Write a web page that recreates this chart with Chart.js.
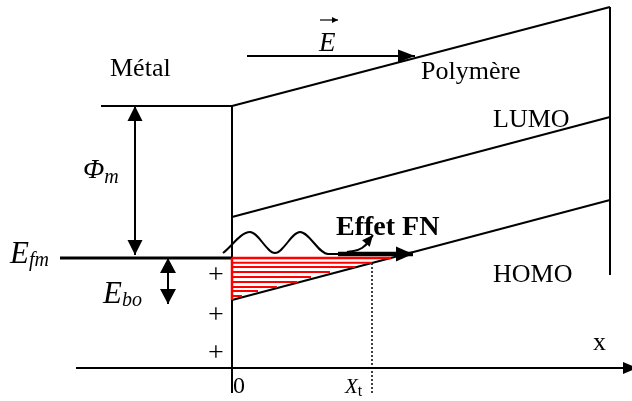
<!DOCTYPE html>
<html><head><meta charset="utf-8">
<script src="https://cdn.jsdelivr.net/npm/chart.js@4.4.1/dist/chart.umd.min.js"></script>
<style>html,body{margin:0;padding:0;background:#fff}#wrap{width:632px;height:401px;position:relative}</style>
</head><body><div id="wrap"><canvas id="c"></canvas></div>
<script>
// ---- schematic data (x: distance, 0 = metal/polymer interface; y: energy, 0 = metal Fermi level) ----
const bandX        = [0, 37.8];          // polymer band diagram extent
const vacuumLevel  = [15.2, 25.1];       // polymer vacuum level (left, right)
const lumoLevel    = [4.1, 14.1];        // LUMO (left, right)
const homoLevel    = [-4.2, 5.8];        // HOMO (left, right)
const metalVacX    = [-13.1, 0];         // metal vacuum level extent
const metalVacY    = 15.2;
const fermiX       = [-17.2, 0];         // metal Fermi level extent
const fermiY       = 0;
const phiArrowX    = -9.7;               // work function arrow
const phiArrowY    = [15.2, 0.3];
const eboArrowX    = -6.4;               // barrier arrow
const eboArrowY    = [0, -4.6];
const interfaceY   = [15.2, -13.5];
const rightEdgeY   = [25.1, -1.7];
const fieldX       = [1.5, 18.3];        // electric field arrow
const fieldY       = 20.2;
const vecSignX     = [8.8, 10.6];        // vector sign over E
const vecSignY     = 23.8;
const axisX        = [-15.6, 40.5];      // x axis
const axisY        = -11.0;
const xt           = 14.0;               // tunnelling distance X_t
const xtY          = [-0.5, -13.7];
const waveX        = [-0.9, 1.8, 4.3, 6.8, 9.6, 10.6];   // electron wave
const waveY        = [0.5, 2.6, 0.5, 2.6, 0.4, 0.4];
const fnArrowX     = [10.6, 18.1];       // Fowler-Nordheim arrow
const fnArrowY     = 0.4;
const curveX       = [11.5, 13.0, 14.1]; // small curved arrow
const curveY       = [0.6, 1.0, 2.3];
const hatchY       = [0, -0.47, -0.9, -1.4, -1.9, -2.4, -2.9, -3.3, -3.8];
const hatchEnd     = [15.9, 14.0, 12.3, 9.8, 7.9, 6.5, 4.5, 2.6, 1.0];
const plusY        = [-1.8, -5.8, -9.6];
const textLabels   = ['Métal', 'Polymère', 'LUMO', 'HOMO', 'x', '0', 'Effet FN'];

const pts = (xs, ys) => xs.map((x, i) => ({x, y: Array.isArray(ys) ? ys[i] : ys}));
const line = (data, extra) => Object.assign({data, showLine: true, borderColor: '#000', borderWidth: 2,
  pointRadius: 0, fill: false, tension: 0}, extra || {});

const datasets = [];
hatchY.forEach((hy, i) => datasets.push(line(pts([0, hatchEnd[i]], hy), {borderColor: '#ff0000', borderWidth: i === 0 ? 2.5 : 2})));
datasets.push(line(pts([0, 0], [0, homoLevel[0]]), {borderColor: '#ff0000', borderWidth: 2.5}));
datasets.push(line(pts(bandX, vacuumLevel)));
datasets.push(line(pts(bandX, lumoLevel)));
datasets.push(line(pts(bandX, homoLevel)));
datasets.push(line(pts(metalVacX, metalVacY)));
datasets.push(line(pts(fermiX, fermiY), {borderWidth: 3}));
datasets.push(line(pts([phiArrowX, phiArrowX], phiArrowY), {arrows: {start: true, end: true, len: 15, w: 15}}));
datasets.push(line(pts([eboArrowX, eboArrowX], eboArrowY), {arrows: {start: true, end: true, len: 15, w: 16}}));
datasets.push(line(pts([0, 0], interfaceY)));
datasets.push(line(pts([bandX[1], bandX[1]], rightEdgeY)));
datasets.push(line(pts(fieldX, fieldY), {arrows: {end: true, len: 17, w: 13}}));
datasets.push(line(pts(vecSignX, vecSignY), {borderWidth: 1.2, arrows: {end: true, len: 6, w: 6}}));
datasets.push(line(pts(axisX, axisY), {arrows: {end: true, len: 14, w: 12}}));
datasets.push(line(pts([xt, xt], xtY), {borderWidth: 1.5, borderDash: [2, 2]}));
datasets.push(line(pts(waveX, waveY), {cubicInterpolationMode: 'monotone', borderWidth: 2}));
datasets.push(line(pts(fnArrowX, fnArrowY), {borderWidth: 4.5, arrows: {end: true, len: 17, w: 15}}));
datasets.push(line(pts(curveX, curveY), {tension: 0.5, borderWidth: 2, arrows: {end: true, len: 11, w: 10}}));

const arrowPlugin = {
  id: 'arrowHeads',
  afterDatasetsDraw(chart) {
    const ctx = chart.ctx;
    chart.data.datasets.forEach((ds, i) => {
      if (!ds.arrows) return;
      const p = chart.getDatasetMeta(i).data;
      const n = p.length;
      const head = (tip, from, len, w) => {
        const a = Math.atan2(tip.y - from.y, tip.x - from.x);
        ctx.save();
        ctx.translate(tip.x, tip.y); ctx.rotate(a);
        ctx.beginPath(); ctx.moveTo(0, 0); ctx.lineTo(-len, -w / 2); ctx.lineTo(-len, w / 2); ctx.closePath();
        ctx.fillStyle = '#000'; ctx.fill(); ctx.restore();
      };
      if (ds.arrows.end) {
        const t = p[n - 1];
        const f = (ds.tension > 0 && t.cp1x !== undefined) ? {x: t.cp1x, y: t.cp1y} : p[n - 2];
        head(t, f, ds.arrows.len, ds.arrows.w);
      }
      if (ds.arrows.start) head(p[0], p[1], ds.arrows.len, ds.arrows.w);
    });
  }
};

const serif = '"Liberation Serif", "Times New Roman", serif';
const labelPlugin = {
  id: 'labels',
  afterDatasetsDraw(chart, args, opts) {
    const {ctx, scales: {x, y}} = chart;
    ctx.save();
    ctx.fillStyle = '#000';
    for (const l of opts.items) {
      const px = x.getPixelForValue(l.x), py = y.getPixelForValue(l.y);
      ctx.font = l.font;
      ctx.textAlign = l.align || 'left';
      ctx.textBaseline = l.baseline || 'alphabetic';
      ctx.fillText(l.text, px, py);
      if (l.sub) {
        const w = ctx.measureText(l.text).width;
        ctx.font = l.subFont;
        ctx.textAlign = 'left';
        ctx.fillText(l.sub, px + w + (l.subDx || 0), py + (l.subDy || 0));
      }
    }
    ctx.restore();
  }
};

const items = [
  {text: textLabels[0], x: -12.2, y: 18.2, font: '26px ' + serif},
  {text: textLabels[1], x: 18.9, y: 17.9, font: '26px ' + serif},
  {text: textLabels[2], x: 26.1, y: 13.1, font: '26px ' + serif},
  {text: textLabels[3], x: 26.1, y: -2.4, font: '26px ' + serif},
  {text: textLabels[4], x: 36.1, y: -9.2, font: '26px ' + serif},
  {text: textLabels[5], x: 0.1, y: -13.5, font: '24px ' + serif},
  {text: textLabels[6], x: 10.4, y: 2.3, font: 'bold 28px ' + serif},
  {text: 'Φ', x: -14.9, y: 8.0, font: 'italic 28px ' + serif, sub: 'm', subFont: 'italic 20px ' + serif, subDy: 5},
  {text: 'E', x: -22.2, y: -0.5, font: 'italic 31px ' + serif, sub: 'fm', subFont: 'italic 20px ' + serif, subDy: 3},
  {text: 'E', x: -12.9, y: -4.5, font: 'italic 31px ' + serif, sub: 'bo', subFont: 'italic 20px ' + serif, subDy: 3},
  {text: 'E', x: 8.7, y: 20.7, font: 'italic 27px ' + serif},
  {text: 'X', x: 11.3, y: -13.5, font: 'italic 21px ' + serif, sub: 't', subFont: '16px ' + serif, subDy: 3},
  ...plusY.map(py => ({text: '+', x: -1.6, y: py, font: '28px ' + serif, align: 'center', baseline: 'middle'}))
];

new Chart(document.getElementById('c'), {
  type: 'scatter',
  data: {datasets},
  options: {
    responsive: true, maintainAspectRatio: false, animation: false,
    layout: {padding: 0},
    scales: {
      x: {type: 'linear', min: -23.2, max: 40, display: false},
      y: {type: 'linear', min: -14.3, max: 25.8, display: false}
    },
    plugins: {legend: {display: false}, tooltip: {enabled: false}, labels: {items}},
    events: []
  },
  plugins: [arrowPlugin, labelPlugin]
});
</script>
</body></html>
